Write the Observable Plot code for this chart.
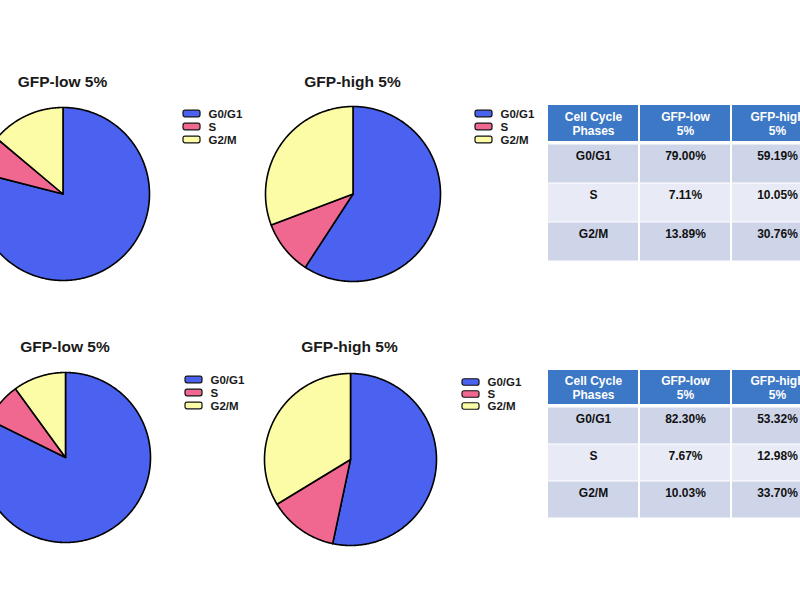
<!DOCTYPE html>
<html>
<head>
<meta charset="utf-8">
<script src="https://cdn.jsdelivr.net/npm/d3@7"></script>
<script src="https://cdn.jsdelivr.net/npm/@observablehq/plot@0.6"></script>
<style>
  body { margin: 0; background: #fff; }
  #page { position: relative; width: 800px; height: 600px; overflow: hidden; background: #fff;
          font-family: "Liberation Sans", Arial, sans-serif; }
  .box { position: absolute; }
  .box svg { max-width: none !important; }
  .title { position: absolute; font-weight: bold; font-size: 15.5px; color: #1a1a1a;
           transform: translate(-50%, -50%); white-space: nowrap; }
</style>
</head>
<body>
<div id="page"></div>
<script>
// Cell-cycle phases and their colours
const phases = ["G0/G1", "S", "G2/M"];
const phaseColors = ["#4a62ef", "#f0678f", "#fdfca6"];

// Sample labels
const groupTitles = ["GFP-low 5%", "GFP-high 5%"];

// Phase percentages, experiment 1 (top row) and experiment 2 (bottom row)
const exp1Low = [79.00, 7.11, 13.89];
const exp1High = [59.19, 10.05, 30.76];
const exp2Low = [82.30, 7.67, 10.03];
const exp2High = [53.32, 12.98, 33.70];

// Summary table column headers
const tableColumns = ["Cell Cycle\nPhases", "GFP-low\n5%", "GFP-high\n5%"];

const FONT = "Liberation Sans, Arial, sans-serif";
const page = document.getElementById("page");

function place(el, left, top, width) {
  const wrap = document.createElement("div");
  wrap.className = "box";
  wrap.style.left = left + "px";
  wrap.style.top = top + "px";
  wrap.style.width = width + "px";
  wrap.appendChild(el);
  page.appendChild(wrap);
}

// Outline of every wedge in unit coordinates, clockwise from 12 o'clock
function wedgeOutlines(values) {
  const arcs = d3.pie().sort(null).value(d => d)(values);
  const pts = [];
  arcs.forEach((a, i) => {
    const phase = phases[i];
    pts.push({phase, x: 0, y: 0});
    const n = Math.max(2, Math.ceil((a.endAngle - a.startAngle) / 0.01));
    for (let k = 0; k <= n; k++) {
      const t = a.startAngle + (a.endAngle - a.startAngle) * k / n;
      pts.push({phase, x: Math.sin(t), y: Math.cos(t)});
    }
    pts.push({phase, x: 0, y: 0});
  });
  return pts;
}

function pie(values, cx, cy, r, title, titleY) {
  const m = 3;
  const size = 2 * r + 2 * m;
  const chart = Plot.plot({
    width: size, height: size, margin: 0,
    style: {background: "transparent", overflow: "visible", maxWidth: "none"},
    x: {domain: [-1, 1], range: [m, m + 2 * r], axis: null},
    y: {domain: [-1, 1], range: [m + 2 * r, m], axis: null},
    color: {domain: phases, range: phaseColors},
    marks: [
      Plot.line(wedgeOutlines(values), {
        x: "x", y: "y", z: "phase", fill: "phase",
        stroke: "#000", strokeWidth: 1.6, strokeLinejoin: "round", curve: "linear"
      })
    ]
  });
  place(chart, cx - r - m, cy - r - m, size);
  const t = document.createElement("div");
  t.className = "title";
  t.textContent = title;
  t.style.left = cx + "px";
  t.style.top = titleY + "px";
  page.appendChild(t);
}

function legend(left, top, rowStep) {
  const h = rowStep * 3;
  const chart = Plot.plot({
    width: 90, height: h + 2, margin: 0,
    style: {background: "transparent", overflow: "visible", maxWidth: "none"},
    x: {domain: [0, 1], range: [2, 19], axis: null},
    y: {type: "band", domain: phases, range: [0, h], padding: 0, axis: null},
    color: {domain: phases, range: phaseColors},
    marks: [
      Plot.barX(phases, {x1: 0, x2: 1, y: d => d, fill: d => d, stroke: "#111",
        strokeWidth: 1.2, rx: 2, insetTop: (rowStep - 7) / 2, insetBottom: (rowStep - 7) / 2}),
      Plot.text(phases, {x: 1, y: d => d, text: d => d, dx: 8, textAnchor: "start",
        fontFamily: FONT, fontWeight: "bold", fontSize: 11.5, fill: "#1a1a1a"})
    ]
  });
  place(chart, left, top, 90);
}

function table(low, high, left, top, bottom) {
  const fmt = v => v.toFixed(2) + "%";
  const rows = ["header", ...phases];
  const header = tableColumns.map(c => ({row: "header", col: c, text: c}));
  const body = [];
  phases.forEach((p, i) => {
    const fill = i % 2 === 0 ? "#cfd5e9" : "#e8ebf5";
    body.push({row: p, col: tableColumns[0], text: p, fill});
    body.push({row: p, col: tableColumns[1], text: fmt(low[i]), fill});
    body.push({row: p, col: tableColumns[2], text: fmt(high[i]), fill});
  });
  const colW = 92;
  const band = (bottom - top) / rows.length;
  const w = colW * 3 + 2;
  const chart = Plot.plot({
    width: w, height: bottom - top, margin: 0,
    style: {background: "transparent", overflow: "visible", maxWidth: "none"},
    x: {type: "band", domain: tableColumns, range: [1, 1 + colW * 3], padding: 0, axis: null},
    y: {type: "band", domain: rows, range: [0, bottom - top], padding: 0, axis: null},
    color: {type: "identity"},
    marks: [
      Plot.cell(header, {x: "col", y: "row", fill: "#3d78c6", insetLeft: 1, insetRight: 1, insetBottom: 3}),
      Plot.cell(body, {x: "col", y: "row", fill: "fill", insetLeft: 1, insetRight: 1, insetTop: 0.5, insetBottom: 0.5}),
      Plot.text(header, {x: "col", y: "row", text: "text", dy: -1.5, lineHeight: 1.2,
        fontFamily: FONT, fontWeight: "bold", fontSize: 12, fill: "#fff"}),
      Plot.text(body, {x: "col", y: "row", text: "text", dy: -band / 2 + 11.5,
        fontFamily: FONT, fontWeight: "bold", fontSize: 12, fill: "#111"})
    ]
  });
  place(chart, left - 2, top, w);
}

// Experiment 1
pie(exp1Low, 62.5, 193.5, 86.5, groupTitles[0], 82);
pie(exp1High, 352.5, 193.5, 87.5, groupTitles[1], 82);
legend(181, 106.7, 13.3);
legend(473, 106.5, 13.3);
table(exp1Low, exp1High, 548, 105, 261);

// Experiment 2
pie(exp2Low, 65, 457, 85, groupTitles[0], 347);
pie(exp2High, 349.5, 458.5, 86, groupTitles[1], 347);
legend(183, 373.3, 13.3);
legend(459.7, 375, 12.5);
table(exp2Low, exp2High, 548, 369, 519.3);
</script>
</body>
</html>
